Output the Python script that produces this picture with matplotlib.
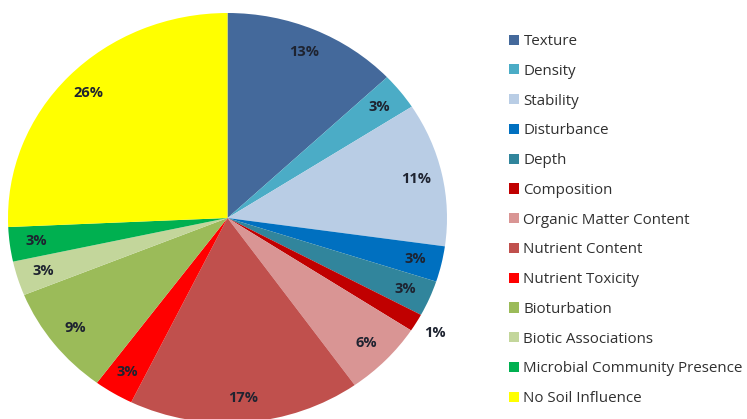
import matplotlib
matplotlib.use("Agg")
import matplotlib.pyplot as plt

labels = ["Texture", "Density", "Stability", "Disturbance", "Depth", "Composition",
          "Organic Matter Content", "Nutrient Content", "Nutrient Toxicity",
          "Bioturbation", "Biotic Associations", "Microbial Community Presence",
          "No Soil Influence"]
shares = [12.9, 2.9, 11.3, 2.8, 2.8, 1.4, 5.9, 17.0, 2.9, 8.7, 2.7, 2.7, 25.6]
colors = ["#44699b", "#4bacc6", "#b9cde5", "#0070c0", "#31859c", "#c00000",
          "#d99594", "#c0504d", "#ff0000", "#9bbb59", "#c3d69b", "#00b050",
          "#ffff00"]

plt.rcParams["font.family"] = ["Open Sans", "DejaVu Sans"]

fig = plt.figure(figsize=(7.47, 4.19), dpi=100)
ax = fig.add_axes([8 / 747, -4 / 419, 439 / 747, 410 / 419])

wedges, texts, autotexts = ax.pie(
    shares, colors=colors, startangle=90, counterclock=False,
    autopct="%.0f%%", pctdistance=0.88,
    wedgeprops=dict(linewidth=0),
    textprops=dict(fontsize=10.5, fontweight="bold", color="#1e2330"))

# the 1% label sits just outside the pie
x, y = autotexts[5].get_position()
autotexts[5].set_position((x * 1.25, y * 1.25))

ax.set_aspect("auto")
ax.set_xlim(-1, 1)
ax.set_ylim(-1, 1)
ax.axis("off")

fig.legend(wedges, labels, loc="upper left", bbox_to_anchor=(509 / 747, 1 - 34 / 419),
           frameon=False, fontsize=10.9, handlelength=0.65, handleheight=0.65,
           handletextpad=0.3, labelspacing=0.975, borderpad=0, borderaxespad=0,
           labelcolor="#303030")

fig.savefig("out.png", dpi=100)
